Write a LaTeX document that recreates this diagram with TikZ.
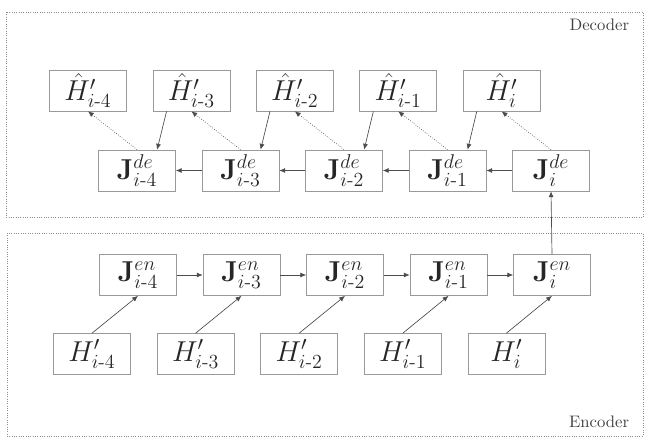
\documentclass[tikz,border=0pt]{standalone}
\usepackage{amsmath}
\usetikzlibrary{arrows.meta}

\begin{document}
\begin{tikzpicture}[x=0.6pt, y=-0.6pt,
        box/.style={draw=black!40, rectangle, minimum width=46.2pt, minimum height=24.6pt, inner sep=0pt, text=black!85},
        link/.style={draw=black!70, -{Latex[length=3.5pt, width=3pt]}},
        frame/.style={draw=black!45, densely dotted}]
        \useasboundingbox (0, 0) rectangle (648, 445);

        % decoder part
        \draw[frame] (6, 12) rectangle (643, 217);
        \node[anchor=east, text=black!75] (dec_lbl) at (635, 25) {Decoder};

        \node[box] (hat4) at (88, 90.5) {\LARGE $\hat{H}'_{i\text{-}4}$};
        \node[box] (hat3) at (191.4, 90.5) {\LARGE $\hat{H}'_{i\text{-}3}$};
        \node[box] (hat2) at (294.8, 90.5) {\LARGE $\hat{H}'_{i\text{-}2}$};
        \node[box] (hat1) at (398.2, 90.5) {\LARGE $\hat{H}'_{i\text{-}1}$};
        \node[box] (hat0) at (501.6, 90.5) {\LARGE $\hat{H}'_{i}$};

        \node[box] (de4) at (137, 170.5) {\LARGE $\mathbf{J}^{de}_{i\text{-}4}$};
        \node[box] (de3) at (240.5, 170.5) {\LARGE $\mathbf{J}^{de}_{i\text{-}3}$};
        \node[box] (de2) at (344, 170.5) {\LARGE $\mathbf{J}^{de}_{i\text{-}2}$};
        \node[box] (de1) at (447.5, 170.5) {\LARGE $\mathbf{J}^{de}_{i\text{-}1}$};
        \node[box] (de0) at (551, 170.5) {\LARGE $\mathbf{J}^{de}_{i}$};

        % encoder part
        \draw[frame] (7, 233) rectangle (643, 436);
        \node[anchor=east, text=black!75] (enc_lbl) at (635, 422) {Encoder};

        \node[box] (en4) at (138, 275) {\LARGE $\mathbf{J}^{en}_{i\text{-}4}$};
        \node[box] (en3) at (241.5, 275) {\LARGE $\mathbf{J}^{en}_{i\text{-}3}$};
        \node[box] (en2) at (345, 275) {\LARGE $\mathbf{J}^{en}_{i\text{-}2}$};
        \node[box] (en1) at (448.5, 275) {\LARGE $\mathbf{J}^{en}_{i\text{-}1}$};
        \node[box] (en0) at (552, 275) {\LARGE $\mathbf{J}^{en}_{i}$};

        \node[box] (in4) at (92, 354) {\LARGE $H'_{i\text{-}4}$};
        \node[box] (in3) at (195.6, 354) {\LARGE $H'_{i\text{-}3}$};
        \node[box] (in2) at (299.2, 354) {\LARGE $H'_{i\text{-}2}$};
        \node[box] (in1) at (402.8, 354) {\LARGE $H'_{i\text{-}1}$};
        \node[box] (in0) at (506.4, 354) {\LARGE $H'_{i}$};

        % inputs into the encoder
        \draw[link] (in4.north) -- (en4.south);
        \draw[link] (in3.north) -- (en3.south);
        \draw[link] (in2.north) -- (en2.south);
        \draw[link] (in1.north) -- (en1.south);
        \draw[link] (in0.north) -- (en0.south);

        \draw[link] (en4) -- (en3);
        \draw[link] (en3) -- (en2);
        \draw[link] (en2) -- (en1);
        \draw[link] (en1) -- (en0);

        \draw[link] (en0.north) -- (de0.south);

        \draw[link] (de0) -- (de1);
        \draw[link] (de1) -- (de2);
        \draw[link] (de2) -- (de3);
        \draw[link] (de3) -- (de4);

        % outputs of the decoder
        \draw[link, densely dotted] (de4.north) -- (hat4.south);
        \draw[link, densely dotted] (de3.north) -- (hat3.south);
        \draw[link, densely dotted] (de2.north) -- (hat2.south);
        \draw[link, densely dotted] (de1.north) -- (hat1.south);
        \draw[link, densely dotted] (de0.north) -- (hat0.south);

        \draw[link] (hat3.220) -- (de4.46);
        \draw[link] (hat2.220) -- (de3.46);
        \draw[link] (hat1.220) -- (de2.46);
        \draw[link] (hat0.220) -- (de1.46);
    \end{tikzpicture}
\end{document}
